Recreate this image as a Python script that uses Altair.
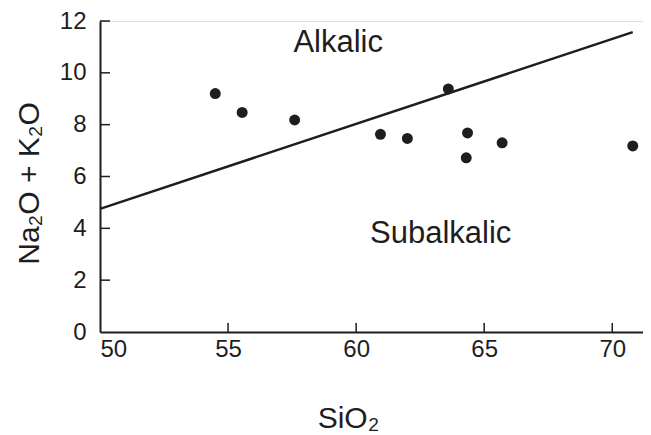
import altair as alt
import pandas as pd

# data
sio2 = [54.5, 55.55, 57.6, 60.95, 62.0, 63.6, 64.35, 64.3, 65.7, 70.8]
alk = [9.2, 8.47, 8.18, 7.63, 7.47, 9.38, 7.68, 6.72, 7.3, 7.18]
line_x = [50.0, 70.8]
line_y = [4.75, 11.57]
x_ticks = [50, 55, 60, 65, 70]
y_ticks = [0, 2, 4, 6, 8, 10, 12]
label_text = ["Alkalic", "Subalkalic"]
label_x = [59.3, 63.3]
label_y = [11.15, 3.8]

W, H = 543, 311
FONT = "Liberation Sans"
INK = "#1e1e1e"

xs = alt.Scale(domain=[50, 71.2], nice=False, zero=False)
ys = alt.Scale(domain=[0, 12], nice=False, zero=False)

pts = pd.DataFrame({"x": sio2, "y": alk})
ln = pd.DataFrame({"x": line_x, "y": line_y})
lab = pd.DataFrame({"t": label_text, "x": label_x, "y": label_y})
xt = pd.DataFrame({"v": x_ticks[1:]})
yt = pd.DataFrame({"v": y_ticks[1:]})

base_x = alt.X("x:Q", scale=xs, axis=alt.Axis(
    values=x_ticks, title="SiO₂", ticks=False, tickSize=0, grid=False,
    domainColor=INK, domainWidth=2, labelFont=FONT, labelFontSize=24,
    labelColor=INK, labelPadding=5, titleFont=FONT, titleFontSize=30,
    titleFontWeight="normal", titleColor=INK, titleX=248, titleY=95,
    titleBaseline="alphabetic", titleAlign="center"))
base_y = alt.Y("y:Q", scale=ys, axis=alt.Axis(
    values=y_ticks, title="Na₂O + K₂O", ticks=False, tickSize=0, grid=False,
    domainColor=INK, domainWidth=2, labelFont=FONT, labelFontSize=24,
    labelColor=INK, labelPadding=14, titleFont=FONT, titleFontSize=30,
    titleFontWeight="normal", titleColor=INK, titleX=-71, titleY=162,
    titleBaseline="middle", titleAlign="center", titleAngle=-90))

points = alt.Chart(pts).mark_point(filled=True, size=120, color=INK, opacity=1).encode(
    x=base_x, y=base_y)

line = alt.Chart(ln).mark_line(color=INK, strokeWidth=2.5).encode(
    x=alt.X("x:Q", scale=xs), y=alt.Y("y:Q", scale=ys))

texts = alt.Chart(lab).mark_text(font=FONT, fontSize=31, color=INK).encode(
    x=alt.X("x:Q", scale=xs), y=alt.Y("y:Q", scale=ys), text="t:N")

xticks = alt.Chart(xt).mark_rule(color=INK, strokeWidth=1.5).encode(
    x=alt.X("v:Q", scale=xs), y=alt.value(H), y2=alt.value(H - 9))
yticks = alt.Chart(yt).mark_rule(color=INK, strokeWidth=1.5).encode(
    y=alt.Y("v:Q", scale=ys), x=alt.value(0), x2=alt.value(10))

chart = alt.layer(line, points, texts, xticks, yticks).properties(
    width=W, height=H,
    autosize=alt.AutoSizeParams(type="none"),
    padding={"left": 92, "top": 13, "right": 0, "bottom": 106},
).configure_view(stroke=None).configure(background="white")

chart.save("out.html", embed_options={"renderer": "svg", "actions": False})
